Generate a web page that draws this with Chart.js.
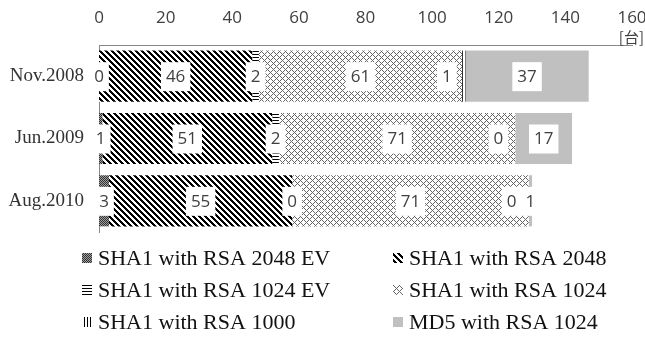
<!DOCTYPE html>
<html>
<head>
<meta charset="utf-8">
<script src="https://cdn.jsdelivr.net/npm/chart.js@4"></script>
<style>
  html, body { margin: 0; padding: 0; background: #fff; }
</style>
</head>
<body>
<canvas id="cert-chart" width="645" height="338"></canvas>
<script>
// DATA
const categories = ["Nov.2008", "Jun.2009", "Aug.2010"];
const seriesNames = [
  "SHA1 with RSA 2048 EV",
  "SHA1 with RSA 2048",
  "SHA1 with RSA 1024 EV",
  "SHA1 with RSA 1024",
  "SHA1 with RSA 1000",
  "MD5 with RSA 1024"
];
const rsa2048ev = [0, 1, 3];
const rsa2048 = [46, 51, 55];
const rsa1024ev = [2, 2, 0];
const rsa1024 = [61, 71, 71];
const rsa1000 = [1, 0, 0];
const md5rsa1024 = [37, 17, 1];
const xTicks = [0, 20, 40, 60, 80, 100, 120, 140, 160];
const unitLabel = "[台]";

// fill patterns (excel-like hatches)
function makePattern(size, pick) {
  const c = document.createElement("canvas");
  c.width = size; c.height = size;
  const g = c.getContext("2d");
  for (let y = 0; y < size; y++) {
    for (let x = 0; x < size; x++) {
      g.fillStyle = pick(x, y);
      g.fillRect(x, y, 1, 1);
    }
  }
  return g.createPattern(c, "repeat");
}

const fills = [
  makePattern(2, (x, y) => (x + y) % 2 ? "#a0a0a0" : "#303030"),
  makePattern(6, (x, y) => ((x - y + 6) % 6) < 3 ? "#000" : "#fff"),
  makePattern(3, (x, y) => y % 3 === 0 ? "#000" : "#fff"),
  makePattern(6, (x, y) => ((x + y) % 6 === 0 || (x - y + 6) % 6 === 0) ? "#666" : "#fff"),
  makePattern(3, (x, y) => x % 3 === 0 ? "#000" : "#fff"),
  "#c0c0c0"
];

const seriesData = [rsa2048ev, rsa2048, rsa1024ev, rsa1024, rsa1000, md5rsa1024];
// label of the 1000 series is pushed left so it doesn't sit on the MD5 label
const labelShift = [0, 0, 0, 0, -17, 0];

// white boxed value labels
const valueLabels = {
  id: "valueLabels",
  afterDatasetsDraw(chart) {
    const ctx = chart.ctx;
    ctx.save();
    ctx.font = "17px 'Open Sans'";
    ctx.textAlign = "center";
    ctx.textBaseline = "middle";
    chart.data.datasets.forEach((ds, i) => {
      const meta = chart.getDatasetMeta(i);
      meta.data.forEach((bar, j) => {
        const txt = String(ds.data[j]);
        const cx = (bar.x + bar.base) / 2 + labelShift[i];
        const w = ctx.measureText(txt).width + 10;
        ctx.fillStyle = "#fff";
        ctx.fillRect(cx - w / 2, bar.y - 14, w, 29);
        ctx.fillStyle = "#404040";
        ctx.fillText(txt, cx, bar.y + 1);
      });
    });
    ctx.restore();
  }
};

// unit text and two-column legend
const extras = {
  id: "extras",
  afterDraw(chart) {
    const ctx = chart.ctx;
    ctx.save();
    ctx.font = "15px 'Noto Sans CJK JP'";
    ctx.fillStyle = "#404040";
    ctx.textAlign = "right";
    ctx.textBaseline = "middle";
    ctx.fillText(unitLabel, chart.chartArea.right + 12, 37);

    const colX = [82, 393];
    const rowY = [258, 290, 322];
    ctx.font = "22px 'Liberation Serif'";
    ctx.textAlign = "left";
    chart.data.datasets.forEach((ds, i) => {
      const x = colX[i % 2];
      const y = rowY[Math.floor(i / 2)];
      ctx.fillStyle = ds.backgroundColor;
      ctx.fillRect(x, y - 5, 10, 10);
      ctx.fillStyle = "#111";
      ctx.fillText(ds.label, x + 16, y + 1);
    });
    ctx.restore();
  }
};

const ctx = document.getElementById("cert-chart").getContext("2d");

const config = {
  type: "bar",
  data: {
    labels: categories,
    datasets: seriesNames.map((name, i) => ({
      label: name,
      data: seriesData[i],
      backgroundColor: fills[i],
      borderWidth: 0,
      categoryPercentage: 0.82,
      barPercentage: 1
    }))
  },
  options: {
    indexAxis: "y",
    responsive: false,
    animation: false,
    devicePixelRatio: 1,
    layout: { padding: { top: 9, right: 13, bottom: 106, left: 0 } },
    plugins: {
      legend: { display: false },
      tooltip: { enabled: false }
    },
    scales: {
      x: {
        type: "linear",
        position: "top",
        stacked: true,
        min: xTicks[0],
        max: xTicks[xTicks.length - 1],
        afterBuildTicks: (s) => { s.ticks = xTicks.map(v => ({ value: v })); },
        afterFit: (s) => { s.height = 36; s.paddingLeft = 0; s.paddingRight = 0; },
        ticks: {
          font: { family: "'Open Sans'", size: 17 },
          color: "#404040",
          padding: 17
        },
        grid: { display: false, drawTicks: false },
        border: { color: "#888", width: 1 }
      },
      y: {
        stacked: true,
        ticks: {
          font: { family: "'Liberation Serif'", size: 19 },
          color: "#333",
          padding: 15
        },
        grid: { display: false, drawTicks: false },
        border: { color: "#888", width: 1 },
        afterFit: (s) => { s.width = 99; }
      }
    }
  },
  plugins: [valueLabels, extras]
};

const certChart = new Chart(ctx, config);
</script>
</body>
</html>
